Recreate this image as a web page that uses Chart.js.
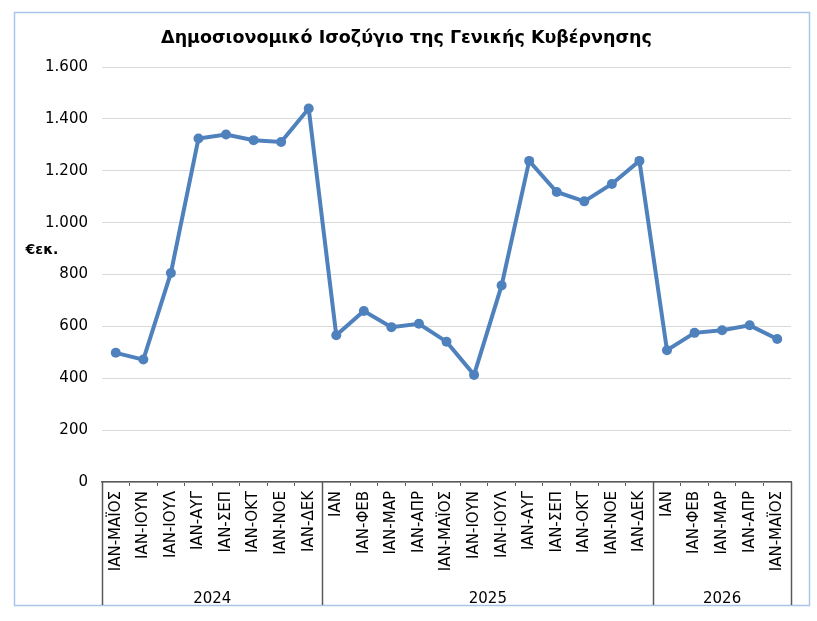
<!DOCTYPE html>
<html>
<head>
<meta charset="utf-8">
<script src="https://cdn.jsdelivr.net/npm/chart.js@4"></script>
<style>
  html, body { margin: 0; padding: 0; background: #fff; }
  #wrap { width: 817px; height: 621px; position: relative; }
</style>
</head>
<body>
<div id="wrap"><canvas id="chart"></canvas></div>
<script>
// category labels (months, cumulative)
const months = [
  "ΙΑΝ-ΜΑΪΟΣ", "ΙΑΝ-ΙΟΥΝ", "ΙΑΝ-ΙΟΥΛ", "ΙΑΝ-ΑΥΓ", "ΙΑΝ-ΣΕΠ", "ΙΑΝ-ΟΚΤ", "ΙΑΝ-ΝΟΕ", "ΙΑΝ-ΔΕΚ",
  "ΙΑΝ", "ΙΑΝ-ΦΕΒ", "ΙΑΝ-ΜΑΡ", "ΙΑΝ-ΑΠΡ", "ΙΑΝ-ΜΑΪΟΣ", "ΙΑΝ-ΙΟΥΝ", "ΙΑΝ-ΙΟΥΛ", "ΙΑΝ-ΑΥΓ",
  "ΙΑΝ-ΣΕΠ", "ΙΑΝ-ΟΚΤ", "ΙΑΝ-ΝΟΕ", "ΙΑΝ-ΔΕΚ",
  "ΙΑΝ", "ΙΑΝ-ΦΕΒ", "ΙΑΝ-ΜΑΡ", "ΙΑΝ-ΑΠΡ", "ΙΑΝ-ΜΑΪΟΣ"
];
// year groups under the month labels
const years = ["2024", "2025", "2026"];
const yearSizes = [8, 12, 5];

// balance, € million
const balance = [
  498, 472, 806, 1324, 1340, 1318, 1311, 1440,
  566, 659, 597, 610, 541, 413, 758, 1238, 1118, 1082, 1149, 1238,
  508, 575, 585, 604, 551
];

const yTicks = { min: 0, max: 1600, step: 200 };

const fmt = (v) => String(v).replace(/\B(?=(\d{3})+(?!\d))/g, ".");

// frame, unit label and year groups
const extras = {
  id: "extras",
  beforeDraw(chart) {
    const ctx = chart.ctx;
    ctx.save();
    ctx.fillStyle = "#fff";
    ctx.fillRect(0, 0, chart.width, chart.height);
    ctx.strokeStyle = "#a9c5ea";
    ctx.lineWidth = 1.5;
    ctx.strokeRect(14.5, 12.5, 795, 593);
    ctx.restore();
  },
  afterDraw(chart) {
    const ctx = chart.ctx;
    const x = chart.scales.x;
    const cw = (x.right - x.left) / months.length;
    ctx.save();
    // unit label
    ctx.font = "bold 14px 'DejaVu Sans'";
    ctx.fillStyle = "#000";
    ctx.textAlign = "center";
    ctx.textBaseline = "middle";
    ctx.fillText("€εκ.", 42, 250);

    // group separators + year labels
    ctx.strokeStyle = "#595959";
    ctx.lineWidth = 1.5;
    ctx.font = "15px 'DejaVu Sans'";
    let idx = 0;
    const bottom = 605;
    const edges = [0];
    yearSizes.forEach((n) => { idx += n; edges.push(idx); });
    edges.forEach((e) => {
      const px = Math.round(x.left + e * cw) + 0.5;
      ctx.beginPath();
      ctx.moveTo(px, x.top);
      ctx.lineTo(px, bottom);
      ctx.stroke();
    });
    years.forEach((y, i) => {
      const cx = x.left + (edges[i] + edges[i + 1]) / 2 * cw;
      ctx.fillText(y, cx, 599);
    });
    ctx.restore();
  }
};

Chart.defaults.font.family = "'DejaVu Sans'";
Chart.defaults.color = "#000";

new Chart(document.getElementById("chart"), {
  type: "line",
  data: {
    labels: months,
    datasets: [{
      label: "Ισοζύγιο",
      data: balance,
      borderColor: "#4f81bd",
      backgroundColor: "#4f81bd",
      borderWidth: 4,
      pointRadius: 5,
      pointBorderWidth: 0,
      pointBackgroundColor: "#4f81bd",
      tension: 0
    }]
  },
  options: {
    responsive: true,
    maintainAspectRatio: false,
    animation: false,
    layout: { padding: { left: 22, right: 26, top: 0, bottom: 16 } },
    plugins: {
      legend: { display: false },
      tooltip: { enabled: false },
      title: {
        display: true,
        text: "Δημοσιονομικό Ισοζύγιο της Γενικής Κυβέρνησης",
        font: { size: 17.5, weight: "bold" },
        color: "#000",
        padding: { top: 28, bottom: 18 }
      }
    },
    scales: {
      x: {
        offset: true,
        grid: {
          display: true,
          offset: true,
          drawOnChartArea: false,
          drawTicks: true,
          tickLength: 4,
          color: "#595959"
        },
        border: { display: true, color: "#595959", width: 1.5 },
        ticks: {
          autoSkip: false,
          minRotation: 90,
          maxRotation: 90,
          padding: 5,
          font: { size: 15 }
        },
        afterFit(s) { s.height = 123; }
      },
      y: {
        min: yTicks.min,
        max: yTicks.max,
        grid: { color: "#d9d9d9", lineWidth: 1, drawTicks: false },
        border: { display: false },
        ticks: {
          stepSize: yTicks.step,
          padding: 14,
          font: { size: 15 },
          callback: (v) => fmt(v)
        },
        afterFit(s) { s.width = 80; }
      }
    }
  },
  plugins: [extras]
});
</script>
</body>
</html>
